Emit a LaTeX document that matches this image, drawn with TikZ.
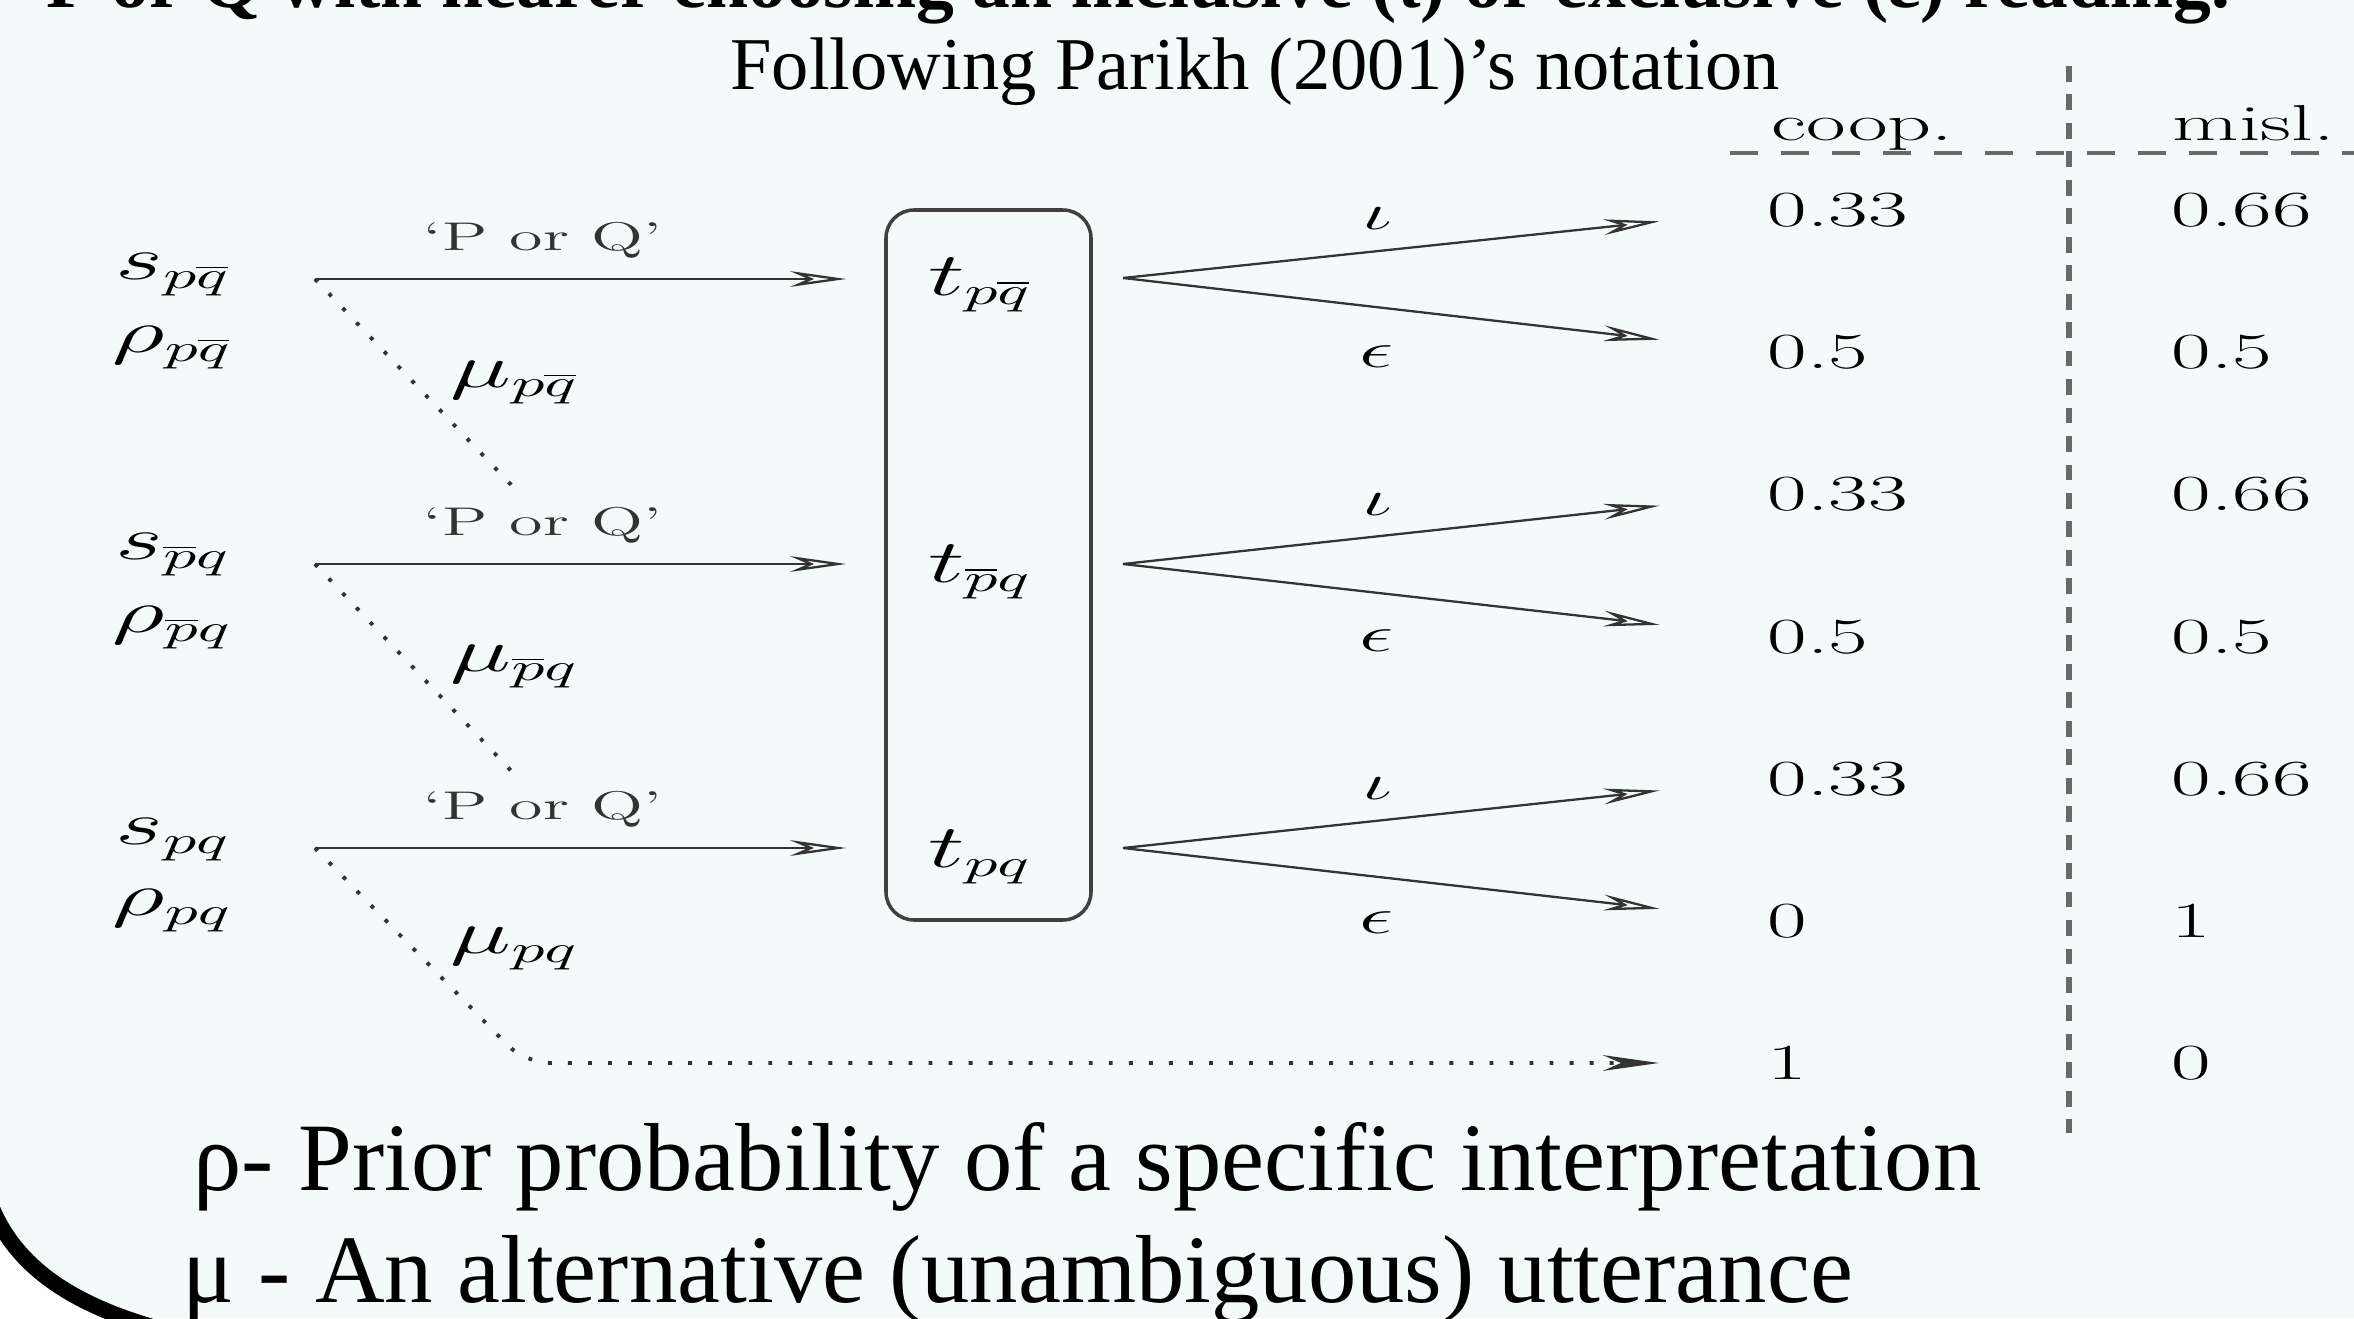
\documentclass[tikz,border=0pt]{standalone}
\usepackage[no-math]{fontspec}
\setmainfont{Liberation Serif}
\newfontfamily\cmfont{Latin Modern Roman}
\usepackage{graphicx}
\usetikzlibrary{arrows.meta}
\definecolor{slidebg}{RGB}{244,249,250}
\definecolor{rulegray}{RGB}{105,105,105}
\newcommand{\widetext}[1]{\scalebox{1.7}[1]{#1}}

\begin{document}
\begin{tikzpicture}[
  lbl/.style={inner sep=0pt, font=\cmfont\fontsize{16}{18}\selectfont},
  smalllbl/.style={inner sep=0pt, font=\cmfont\fontsize{11.4}{13}\selectfont},
  greeklbl/.style={inner sep=0pt, font=\cmfont\fontsize{15}{17}\selectfont},
  num/.style={anchor=west, inner sep=0pt, font=\cmfont\fontsize{14.4}{16}\selectfont},
  arr/.style={-{Stealth[open, length=16pt, width=4.5pt]}, line width=0.65pt, black!80},
  dots/.style={line width=1.1pt, black!80, dash pattern=on 1.1pt off 4.6pt},
  colrule/.style={rulegray, line width=1.1pt, dash pattern=on 8pt off 6.5pt},
  rowrule/.style={rulegray, line width=1.8pt, dash pattern=on 4.5pt off 3.6pt},
  slide/.style={inner sep=0pt, font=\fontsize{27.5}{30}\selectfont}
]
\useasboundingbox (0,0) rectangle (23.54,13.18);
\fill[slidebg] (0,0) rectangle (23.54,13.18);
\begin{scope}
\clip (0,0) rectangle (23.54,13.18);
% slide border, bottom left corner
\fill[white] (-0.1,1.15) .. controls (0.15,0.5) and (0.75,0.10) .. (1.75,-0.15) -- (-0.1,-0.15) -- cycle;
\draw[line width=4.5pt] (-0.1,1.15) .. controls (0.15,0.5) and (0.75,0.10) .. (1.75,-0.15);
% heading, cut by the top edge
\node[anchor=base west, inner sep=0pt, font=\bfseries\fontsize{21.5}{24}\selectfont] (head) at (0.46,13.10)
  {P or Q with hearer choosing an inclusive (ι) or exclusive (ε) reading.};
\end{scope}
\node[anchor=base, inner sep=0pt, font=\fontsize{21.2}{24}\selectfont] (title) at (12.55,12.28) {Following Parikh (2001)'s notation};

% speaker states
\node[lbl, anchor=west] (s1) at (1.15,10.43) {\widetext{$s_{p\overline{q}}$}};
\node[lbl, anchor=west] (r1) at (1.12,9.70)  {\widetext{$\rho_{p\overline{q}}$}};
\node[lbl, anchor=west] (s2) at (1.15,7.63)  {\widetext{$s_{\overline{p}q}$}};
\node[lbl, anchor=west] (r2) at (1.12,6.90)  {\widetext{$\rho_{\overline{p}q}$}};
\node[lbl, anchor=west] (s3) at (1.15,4.78)  {\widetext{$s_{pq}$}};
\node[lbl, anchor=west] (r3) at (1.12,4.07)  {\widetext{$\rho_{pq}$}};
\coordinate (o1) at (3.15,10.39);
\coordinate (o2) at (3.15,7.54);
\coordinate (o3) at (3.15,4.70);

% hearer states
\node[draw, line width=1pt, black!75, rounded corners=0.28cm, minimum width=2.05cm, minimum height=7.10cm] (box) at (9.885,7.53) {};
\node[lbl] (t1) at (9.80,10.33) {\widetext{$t_{p\overline{q}}$}};
\node[lbl] (t2) at (9.80,7.46)  {\widetext{$t_{\overline{p}q}$}};
\node[lbl] (t3) at (9.80,4.61)  {\widetext{$t_{pq}$}};

\draw[arr, shorten >=0.38cm] (o1) -- (o1 -| box.west) node[smalllbl, pos=0.4, above=0.2cm] (u1) {\widetext{‘P or Q’}};
\draw[arr, shorten >=0.38cm] (o2) -- (o2 -| box.west) node[smalllbl, pos=0.4, above=0.2cm] (u2) {\widetext{‘P or Q’}};
\draw[arr, shorten >=0.38cm] (o3) -- (o3 -| box.west) node[smalllbl, pos=0.4, above=0.2cm] (u3) {\widetext{‘P or Q’}};

% alternative utterances
\coordinate (d1) at (5.18,8.26);
\coordinate (d2) at (5.18,5.40);
\coordinate (d3) at (5.25,2.55);
\draw[dots] (o1) -- (d1);
\draw[dots] (o2) -- (d2);
\node[lbl, anchor=west] (mu1) at (4.50,9.35) {\widetext{$\mu_{p\overline{q}}$}};
\node[lbl, anchor=west] (mu2) at (4.50,6.51) {\widetext{$\mu_{\overline{p}q}$}};
\node[lbl, anchor=west] (mu3) at (4.50,3.69) {\widetext{$\mu_{pq}$}};

% table
\node[num, anchor=base west] (coop) at (17.71,11.77) {\widetext{coop.}};
\node[num, anchor=base west] (misl) at (21.72,11.77) {\widetext{misl.}};
\draw[colrule] (17.30,11.65) -- (23.60,11.65);
\draw[rowrule] (20.69,12.52) -- (20.69,1.85);
\node[num] (c1) at (17.67,11.08) {\widetext{0.33}};
\node[num] (c2) at (17.67,9.66)  {\widetext{0.5}};
\node[num] (c3) at (17.67,8.24)  {\widetext{0.33}};
\node[num] (c4) at (17.67,6.81)  {\widetext{0.5}};
\node[num] (c5) at (17.67,5.39)  {\widetext{0.33}};
\node[num] (c6) at (17.67,3.97)  {\widetext{0}};
\node[num] (c7) at (17.67,2.55)  {\widetext{1}};
\node[num] (m1) at (21.71,11.08) {\widetext{0.66}};
\node[num] (m2) at (21.71,9.66)  {\widetext{0.5}};
\node[num] (m3) at (21.71,8.24)  {\widetext{0.66}};
\node[num] (m4) at (21.71,6.81)  {\widetext{0.5}};
\node[num] (m5) at (21.71,5.39)  {\widetext{0.66}};
\node[num] (m6) at (21.71,3.97)  {\widetext{1}};
\node[num] (m7) at (21.71,2.55)  {\widetext{0}};

% readings
\coordinate (f1) at (11.23,10.40);
\coordinate (f2) at (11.23,7.54);
\coordinate (f3) at (11.23,4.70);
\draw[arr, shorten >=1.08cm] (f1) -- (c1.west);
\draw[arr, shorten >=1.08cm] (f1) -- (c2.west);
\draw[arr, shorten >=1.08cm] (f2) -- (c3.west);
\draw[arr, shorten >=1.08cm] (f2) -- (c4.west);
\draw[arr, shorten >=1.08cm] (f3) -- (c5.west);
\draw[arr, shorten >=1.08cm] (f3) -- (c6.west);
\draw[dots, -{Stealth[open, length=16pt, width=4.5pt]}, rounded corners=0.25cm, shorten >=1.08cm] (o3) -- (d3) -- (c7.west);
\node[greeklbl] (i1) at (13.77,10.99) {\widetext{$\iota$}};
\node[greeklbl] (e1) at (13.77,9.61)  {\widetext{$\epsilon$}};
\node[greeklbl] (i2) at (13.77,8.13)  {\widetext{$\iota$}};
\node[greeklbl] (e2) at (13.77,6.77)  {\widetext{$\epsilon$}};
\node[greeklbl] (i3) at (13.77,5.29)  {\widetext{$\iota$}};
\node[greeklbl] (e3) at (13.77,3.95)  {\widetext{$\epsilon$}};

% legend
\node[slide, anchor=base west] (rhodef) at (1.93,1.28) {ρ- Prior probability of a specific interpretation};
\node[slide, anchor=base west] (mudef) at (1.82,0.16) {μ - An alternative (unambiguous) utterance};
\end{tikzpicture}
\end{document}
